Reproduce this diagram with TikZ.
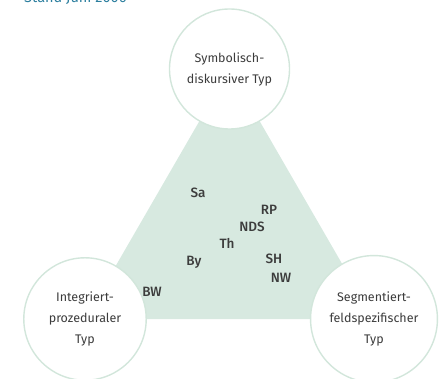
\documentclass[tikz,border=0pt]{standalone}
\usepackage{fontspec}
\setmainfont{Fira Sans}
\newfontfamily\landfont{Fira Sans}[UprightFont=* Medium]
\definecolor{feldgruen}{HTML}{D7E9E0}
\definecolor{randgruen}{HTML}{D2E6DB}
\definecolor{schrift}{HTML}{3C3C3C}
\definecolor{titelblau}{HTML}{2B7E9E}
\begin{document}
\begin{tikzpicture}[x=1pt,y=-1pt,
    typ/.style={circle, draw=randgruen, line width=1.4pt, fill=white,
                minimum size=120pt, inner sep=0pt, align=center,
                text=schrift, font=\fontsize{12.5}{21}\selectfont},
    land/.style={text=schrift, font=\landfont\fontsize{13.5}{15}\selectfont, inner sep=0pt}]
    \useasboundingbox (0,0) rectangle (439,379);
    \clip (0,0) rectangle (439,379);
    % Titel (oben abgeschnitten)
    \node[anchor=base west, text=titelblau, font=\fontsize{14.5}{16}\selectfont, inner sep=0pt] (titel) at (24,3) {Stand Juni 2006};
    % Ecken des Dreiecks
    \coordinate (symb) at (229.5,69);
    \coordinate (integ) at (85,319);
    \coordinate (segm) at (374,319);
    % Dreieck
    \fill[feldgruen] (symb) -- (integ) -- (segm) -- cycle;
    % Kreise
    \node[typ] (symbkreis) at (symb) {\raisebox{-6pt}{\parbox{110pt}{\centering Symbolisch-\\diskursiver Typ}}};
    \node[typ] (integkreis) at (integ) {\raisebox{-3pt}{\parbox{110pt}{\centering Integriert-\\prozeduraler\\Typ}}};
    \node[typ] (segmkreis) at (segm) {\raisebox{-3pt}{\parbox{115pt}{\centering Segmentiert-\\feldspezifischer\\Typ}}};
    % Laender
    \node[land] (sa) at (198,193) {Sa};
    \node[land] (rp) at (269,210) {RP};
    \node[land] (nds) at (252,227) {NDS};
    \node[land] (th) at (227,243) {Th};
    \node[land] (by) at (194,262) {By};
    \node[land] (sh) at (274,259) {SH};
    \node[land] (nw) at (281,278) {NW};
    \node[land] (bw) at (152,292) {BW};
\end{tikzpicture}
\end{document}
